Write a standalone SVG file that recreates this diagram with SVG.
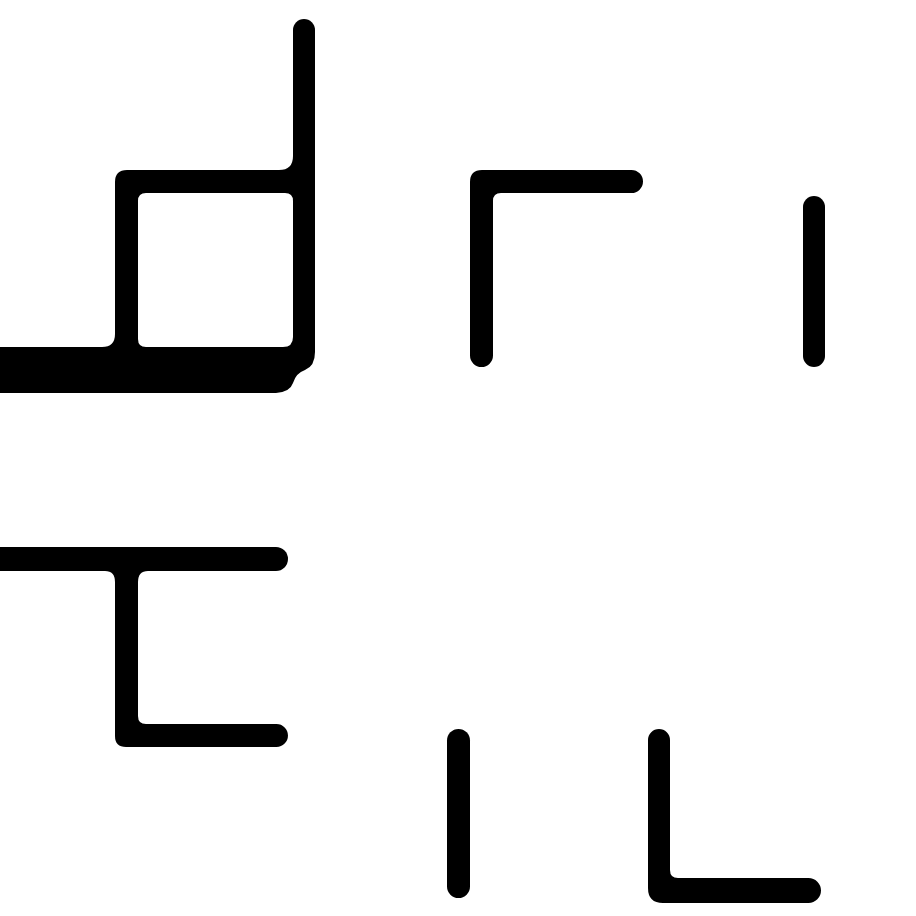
<svg xmlns="http://www.w3.org/2000/svg" width="916" height="916" viewBox="0 0 916 916">
<style>
.s{fill:#000;stroke:none}
</style>
<rect x="0" y="0" width="916" height="916" fill="#fff"/>
<g id="box-top-left">
<path class="s" d="M293,30 A11,11 0 0 1 315,30 V350 H293 Z"/>
<path class="s" fill-rule="evenodd" d="M127,170 H315 V350 H115 V182 Q115,170 127,170 Z M146,193 H285 Q293,193 293,201 V337 Q293,347 283,347 H146 Q138,347 138,339 V201 Q138,193 146,193 Z"/>
<path class="s" d="M279,170 L293,170 L293,156 Q293,170 279,170 Z"/>
<path class="s" d="M115,334 L115,347 L102,347 Q115,347 115,334 Z"/>
<path class="s" d="M0,347 H315 V352 Q315,366 305,370 Q296,373 293,383 Q290,392 276,393 H0 Z"/>
</g>
<g id="tee-bottom-left">
<rect class="s" x="-20" y="547" width="308" height="24" rx="12"/>
<path class="s" d="M115,571 V736 Q115,747 126,747 H276.5 A11.5,11.5 0 0 0 276.5,724 H146 Q138,724 138,716 V571 Z"/>
<path class="s" d="M105,571 L115,571 L115,582 Q115,571 105,571 Z"/>
<path class="s" d="M148,571 L138,571 L138,582 Q138,571 148,571 Z"/>
</g>
<g id="corner-top-middle">
<path class="s" d="M482,170 H631.5 A11.5,11.5 0 0 1 631.5,193 H501 Q493,193 493,201 V355.5 A11.5,11.5 0 0 1 470,355.5 V182 Q470,170 482,170 Z"/>
</g>
<g id="bar-top-right">
<rect class="s" x="803" y="196" width="22" height="171" rx="11"/>
</g>
<g id="bar-bottom-middle">
<rect class="s" x="447" y="729" width="23" height="169" rx="11.5"/>
</g>
<g id="ell-bottom-right">
<path class="s" d="M659,729 A11,11 0 0 1 670,740 V870 Q670,878 678,878 H808.5 A12.5,12.5 0 0 1 808.5,903 H663 Q648,903 648,888 V740 A11,11 0 0 1 659,729 Z"/>
</g>
</svg>
